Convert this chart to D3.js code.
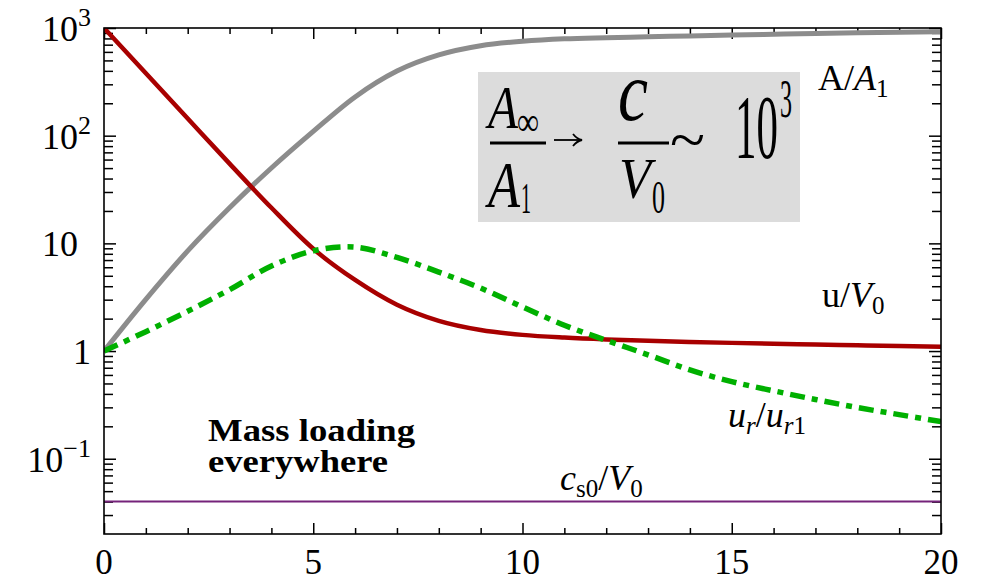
<!DOCTYPE html>
<html><head><meta charset="utf-8">
<script src="https://cdn.jsdelivr.net/npm/d3@7"></script>
<style>body{margin:0;background:#fff} svg{display:block}</style>
</head><body>
<svg id="c" width="982" height="582"></svg>
<script>
// ---- data ----
const tValues = [0,1,2,3,4,5,6,7,8,9,10,11,12,13,14,15,16,17,18,19,20];
const uOverV0 = [1000,380,144.5,55,21.4,8.91,4.57,2.69,1.905,1.567,1.413,1.334,1.282,1.245,1.216,1.191,1.169,1.151,1.132,1.114,1.099];
const AOverA1 = [1,3.02,8.51,21.4,50.1,109.6,229,398,562,684,753,794,813,828,845,861,875,889,902,914,925];
const urOverUr1 = [1,1.514,2.344,3.715,6.166,8.511,9.226,7.413,5.408,3.846,2.570,1.738,1.259,0.923,0.668,0.520,0.427,0.355,0.299,0.257,0.221];
const cs0T = [0,20];
const cs0OverV0 = [0.04,0.04];
const xTicks = [0,5,10,15,20];
const xTickLabels = ["0","5","10","15","20"];
const yTicks = [1000,100,10,1,0.1];
const yTickBase = ["10","10","10","1","10"];
const yTickExp = ["3","2","","","\u22121"];

// ---- layout ----
const L=104,R=941,T=28,B=534;
const svg = d3.select("#c");
const x = d3.scaleLinear().domain([0,20]).range([L,R]);
const y = d3.scaleLog().domain([0.02,1000]).range([B,T]);
const serif = "Liberation Serif, Times New Roman, Times, serif";

const minorX = d3.range(0,21).filter(v=>v%5!==0);
const minorY = [];
for (let d=-2; d<=2; d++) for (let k=2;k<=9;k++){ const v=k*Math.pow(10,d); if (v>0.02 && v<1000) minorY.push(v); }

function tickAxis(axis, tr){
  const g = svg.append("g").attr("transform",tr).call(axis);
  g.select(".domain").remove();
  g.selectAll("text").remove();
  g.selectAll("line").attr("stroke","#000").attr("stroke-width",1.5);
}
tickAxis(d3.axisBottom(x).tickValues(xTicks).tickSize(-11), `translate(0,${B})`);
tickAxis(d3.axisBottom(x).tickValues(minorX).tickSize(-6), `translate(0,${B})`);
tickAxis(d3.axisTop(x).tickValues(xTicks).tickSize(-11), `translate(0,${T})`);
tickAxis(d3.axisTop(x).tickValues(minorX).tickSize(-6), `translate(0,${T})`);
tickAxis(d3.axisLeft(y).tickValues(yTicks).tickSize(-12), `translate(${L},0)`);
tickAxis(d3.axisLeft(y).tickValues(minorY).tickSize(-9), `translate(${L},0)`);
tickAxis(d3.axisRight(y).tickValues(yTicks).tickSize(-12), `translate(${R},0)`);
tickAxis(d3.axisRight(y).tickValues(minorY).tickSize(-9), `translate(${R},0)`);

// tick labels
xTicks.forEach((v,i)=>{
  svg.append("text").attr("x",x(v)).attr("y",574).attr("text-anchor","middle")
    .attr("font-family",serif).attr("font-size",35).text(xTickLabels[i]);
});
yTicks.forEach((v,i)=>{
  const endX = (yTickBase[i]==="10" && !yTickExp[i]) ? 78 : 91;
  const tx = svg.append("text").attr("x",endX).attr("y",y(v)+13).attr("text-anchor","end")
    .attr("font-family",serif).attr("font-size",36);
  tx.append("tspan").text(yTickBase[i]);
  if (yTickExp[i]) tx.append("tspan").attr("font-size",26).attr("dy",-15).text(yTickExp[i]);
});

// clip
svg.append("clipPath").attr("id","clip").append("rect").attr("x",L).attr("y",T).attr("width",R-L).attr("height",B-T);
const plot = svg.append("g").attr("clip-path","url(#clip)");
const zip = (a,b)=>a.map((v,i)=>[v,b[i]]);
const lineM = d3.line().x(d=>x(d[0])).y(d=>y(d[1])).curve(d3.curveMonotoneX);
const lineC = d3.line().x(d=>x(d[0])).y(d=>y(d[1])).curve(d3.curveCatmullRom.alpha(0.5));

plot.append("path").attr("d",lineM(zip(tValues,AOverA1))).attr("fill","none").attr("stroke","#8c8c8c").attr("stroke-width",5);
plot.append("path").attr("d",lineM(zip(tValues,uOverV0))).attr("fill","none").attr("stroke","#a80000").attr("stroke-width",4.5);
plot.append("path").attr("d",lineC(zip(tValues,urOverUr1))).attr("fill","none").attr("stroke","#00b000").attr("stroke-width",5.5).attr("stroke-dasharray","15,7,6,7");
plot.append("path").attr("d",d3.line().x(d=>x(d[0])).y(d=>y(d[1]))(zip(cs0T,cs0OverV0))).attr("fill","none").attr("stroke","#75237a").attr("stroke-width",2);

// frame
svg.append("rect").attr("x",L).attr("y",T).attr("width",R-L).attr("height",B-T).attr("fill","none").attr("stroke","#000").attr("stroke-width",1.6);

// curve labels
function label(xp, yp, parts){
  const tx = svg.append("text").attr("x",xp).attr("y",yp).attr("font-family",serif).attr("font-size",36);
  parts.forEach(p=>{
    const s = tx.append("tspan").text(p.t);
    if (p.i) s.attr("font-style","italic");
    if (p.sub) s.attr("font-size",25);
    if (p.dy) s.attr("dy",p.dy);
  });
}
label(818,90,[{t:"A"},{t:"/"},{t:"A",i:1},{t:"1",sub:1,dy:7}]);
label(822,307,[{t:"u"},{t:"/"},{t:"V",i:1},{t:"0",sub:1,dy:7}]);
label(728,427,[{t:"u",i:1},{t:"r",i:1,sub:1,dy:7},{t:"/",dy:-7},{t:"u",i:1},{t:"r",i:1,sub:1,dy:7},{t:"1",sub:1}]);
label(560,490,[{t:"c",i:1},{t:"s0",sub:1,dy:7},{t:"/",dy:-7},{t:"V",i:1},{t:"0",sub:1,dy:7}]);

svg.append("text").attr("x",208).attr("y",441).attr("font-family",serif).attr("font-weight","bold")
  .attr("font-size",32).attr("textLength",207).attr("lengthAdjust","spacingAndGlyphs").text("Mass loading");
svg.append("text").attr("x",208).attr("y",472).attr("font-family",serif).attr("font-weight","bold")
  .attr("font-size",32).attr("textLength",180).attr("lengthAdjust","spacingAndGlyphs").text("everywhere");

// formula box
svg.append("rect").attr("x",478).attr("y",72).attr("width",322).attr("height",150).attr("fill","#dcdcdc");
const fpieces = [
  {t:"A",x:488,y:128,fs:62,w:30,i:1},
  {t:"\u221E",x:517,y:135,fs:40,w:22},
  {t:"A",x:488,y:207,fs:66,w:32,i:1},
  {t:"1",x:521,y:213,fs:44,w:10},
  {t:"c",x:618,y:120,fs:84,w:30,i:1},
  {t:"V",x:619,y:198,fs:56,w:32,i:1},
  {t:"0",x:652,y:213,fs:46,w:13},
  {t:"~",x:670,y:160,fs:60,w:35},
  {t:"10",x:735,y:158,fs:90,w:43},
  {t:"3",x:780,y:117,fs:55,w:12}
];
fpieces.forEach(p=>{
  const s = svg.append("text").attr("x",p.x).attr("y",p.y).attr("font-family",serif).attr("font-size",p.fs)
    .attr("textLength",p.w).attr("lengthAdjust","spacingAndGlyphs").text(p.t);
  if (p.i) s.attr("font-style","italic");
});
svg.append("line").attr("x1",490).attr("x2",546).attr("y1",143).attr("y2",143).attr("stroke","#000").attr("stroke-width",3);
svg.append("line").attr("x1",618).attr("x2",669).attr("y1",143).attr("y2",143).attr("stroke","#000").attr("stroke-width",3);
// arrow
svg.append("line").attr("x1",554).attr("x2",580).attr("y1",140).attr("y2",140).attr("stroke","#000").attr("stroke-width",1.8);
svg.append("path").attr("d","M573,134 Q577,139 582,140 Q577,141 573,146").attr("fill","none").attr("stroke","#000").attr("stroke-width",1.8);
</script>
</body></html>
